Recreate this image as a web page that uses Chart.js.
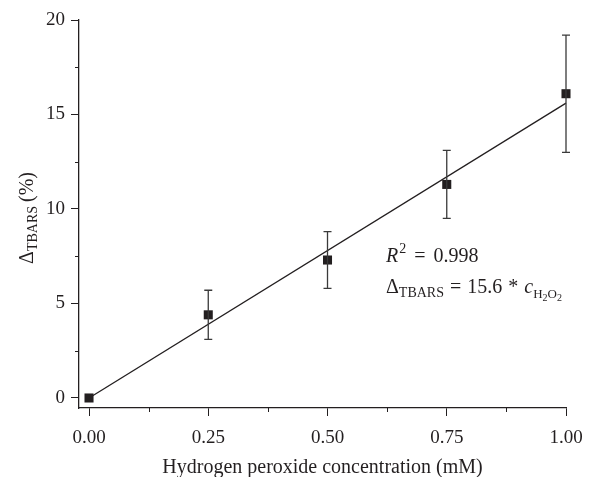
<!DOCTYPE html>
<html>
<head>
<meta charset="utf-8">
<script src="https://cdn.jsdelivr.net/npm/chart.js@4/dist/chart.umd.min.js"></script>
<style>
html,body{margin:0;padding:0;background:#fff;}
#wrap{width:606px;height:477px;position:relative;}
</style>
</head>
<body>
<div id="wrap"><canvas id="c" width="606" height="477"></canvas></div>
<script>
// Data
const concentrations = [0.00, 0.25, 0.50, 0.75, 1.00];
const deltaTBARS     = [0.0, 4.4, 7.3, 11.3, 16.1];
const errors         = [0.0, 1.3, 1.5, 1.8, 3.1];
const fitX = [0.0, 1.0];
const fitY = [0.0, 15.6];
const xMajorTicks = [0, 0.25, 0.5, 0.75, 1.0];
const xMinorTicks = [0.125, 0.375, 0.625, 0.875];
const yMajorTicks = [0, 5, 10, 15, 20];
const yMinorTicks = [2.5, 7.5, 12.5, 17.5];

const INK = '#231f20';
const SERIF = '"Liberation Serif", "DejaVu Serif", serif';

function drawRich(ctx, parts, x, y) {
  let cx = x;
  for (const p of parts) {
    ctx.font = (p.italic ? 'italic ' : '') + p.size + 'px ' + SERIF;
    ctx.fillText(p.t, cx, y + (p.dy || 0));
    cx += ctx.measureText(p.t).width + (p.gap || 0);
  }
  return cx - x;
}
function richWidth(ctx, parts) {
  let w = 0;
  for (const p of parts) {
    ctx.font = (p.italic ? 'italic ' : '') + p.size + 'px ' + SERIF;
    w += ctx.measureText(p.t).width + (p.gap || 0);
  }
  return w;
}

const extras = {
  id: 'extras',
  afterDatasetsDraw(chart) {
    const ctx = chart.ctx;
    const xs = chart.scales.x, ys = chart.scales.y;
    ctx.save();
    // error bars
    ctx.strokeStyle = '#3a3a3a';
    ctx.lineWidth = 1.3;
    concentrations.forEach((c, i) => {
      if (!errors[i]) return;
      const px = xs.getPixelForValue(c);
      const top = ys.getPixelForValue(deltaTBARS[i] + errors[i]);
      const bot = ys.getPixelForValue(deltaTBARS[i] - errors[i]);
      ctx.beginPath();
      ctx.moveTo(px, top); ctx.lineTo(px, bot);
      ctx.moveTo(px - 4, top); ctx.lineTo(px + 4, top);
      ctx.moveTo(px - 4, bot); ctx.lineTo(px + 4, bot);
      ctx.stroke();
    });
    // minor ticks
    ctx.strokeStyle = INK;
    ctx.lineWidth = 1;
    const axisY = chart.chartArea.bottom, axisX = chart.chartArea.left;
    xMinorTicks.forEach(v => {
      const px = Math.round(xs.getPixelForValue(v)) + 0.5;
      ctx.beginPath(); ctx.moveTo(px, axisY); ctx.lineTo(px, axisY + 4); ctx.stroke();
    });
    yMinorTicks.forEach(v => {
      const py = Math.round(ys.getPixelForValue(v)) + 0.5;
      ctx.beginPath(); ctx.moveTo(axisX, py); ctx.lineTo(axisX - 4, py); ctx.stroke();
    });
    // annotation
    ctx.fillStyle = INK;
    ctx.textBaseline = 'alphabetic';
    ctx.textAlign = 'left';
    drawRich(ctx, [
      {t: 'R', size: 20, italic: true, gap: 1},
      {t: '2', size: 14, dy: -9, gap: 8},
      {t: '=', size: 20, gap: 8},
      {t: '0.998', size: 20}
    ], 386, 262);
    drawRich(ctx, [
      {t: 'Δ', size: 20},
      {t: 'TBARS', size: 14, dy: 4, gap: 6},
      {t: '=', size: 20, gap: 6},
      {t: '15.6', size: 20, gap: 6},
      {t: '*', size: 20, gap: 6},
      {t: 'c', size: 20, italic: true},
      {t: 'H', size: 13, dy: 5},
      {t: '2', size: 10, dy: 8},
      {t: 'O', size: 13, dy: 5},
      {t: '2', size: 10, dy: 8}
    ], 386, 293);
    // y axis title (rotated)
    const yParts = [
      {t: 'Δ', size: 20},
      {t: 'TBARS', size: 14, dy: 4, gap: 4},
      {t: '(%)', size: 20}
    ];
    const w = richWidth(ctx, yParts);
    ctx.translate(33, 218);
    ctx.rotate(-Math.PI / 2);
    drawRich(ctx, yParts, -w / 2, 0);
    ctx.restore();
  }
};

new Chart(document.getElementById('c'), {
  type: 'scatter',
  data: {
    datasets: [
      {
        type: 'line',
        data: fitX.map((x, i) => ({x, y: fitY[i]})),
        borderColor: INK,
        borderWidth: 1.3,
        pointRadius: 0,
        fill: false,
        clip: false,
        order: 2
      },
      {
        data: concentrations.map((x, i) => ({x, y: deltaTBARS[i]})),
        pointStyle: 'rect',
        pointRadius: 6.4,
        pointBackgroundColor: INK,
        pointBorderColor: INK,
        pointBorderWidth: 0,
        clip: false,
        order: 1
      }
    ]
  },
  options: {
    responsive: false,
    animation: false,
    events: [],
    layout: {padding: {top: 20, right: 40, left: 0, bottom: 0}},
    plugins: {legend: {display: false}, tooltip: {enabled: false}},
    scales: {
      x: {
        type: 'linear',
        min: -0.021,
        max: 1.0,
        afterBuildTicks: s => { s.ticks = xMajorTicks.map(v => ({value: v})); },
        afterFit: s => { s.height = 69; },
        ticks: {
          color: INK,
          font: {family: SERIF, size: 19},
          padding: 11,
          callback: v => v.toFixed(2)
        },
        grid: {drawOnChartArea: false, drawTicks: true, tickLength: 8, color: INK, lineWidth: 1},
        border: {display: true, color: INK, width: 1.3},
        title: {
          display: true,
          text: 'Hydrogen peroxide concentration (mM)',
          color: INK,
          font: {family: SERIF, size: 20},
          padding: {top: 0, bottom: -3}
        }
      },
      y: {
        type: 'linear',
        min: -0.53,
        max: 20,
        afterBuildTicks: s => { s.ticks = yMajorTicks.map(v => ({value: v})); },
        afterFit: s => { s.width = 79; },
        ticks: {
          color: INK,
          font: {family: SERIF, size: 19},
          padding: 6,
          callback: v => String(v)
        },
        grid: {drawOnChartArea: false, drawTicks: true, tickLength: 8, color: INK, lineWidth: 1},
        border: {display: true, color: INK, width: 1.3}
      }
    }
  },
  plugins: [extras]
});
</script>
</body>
</html>
